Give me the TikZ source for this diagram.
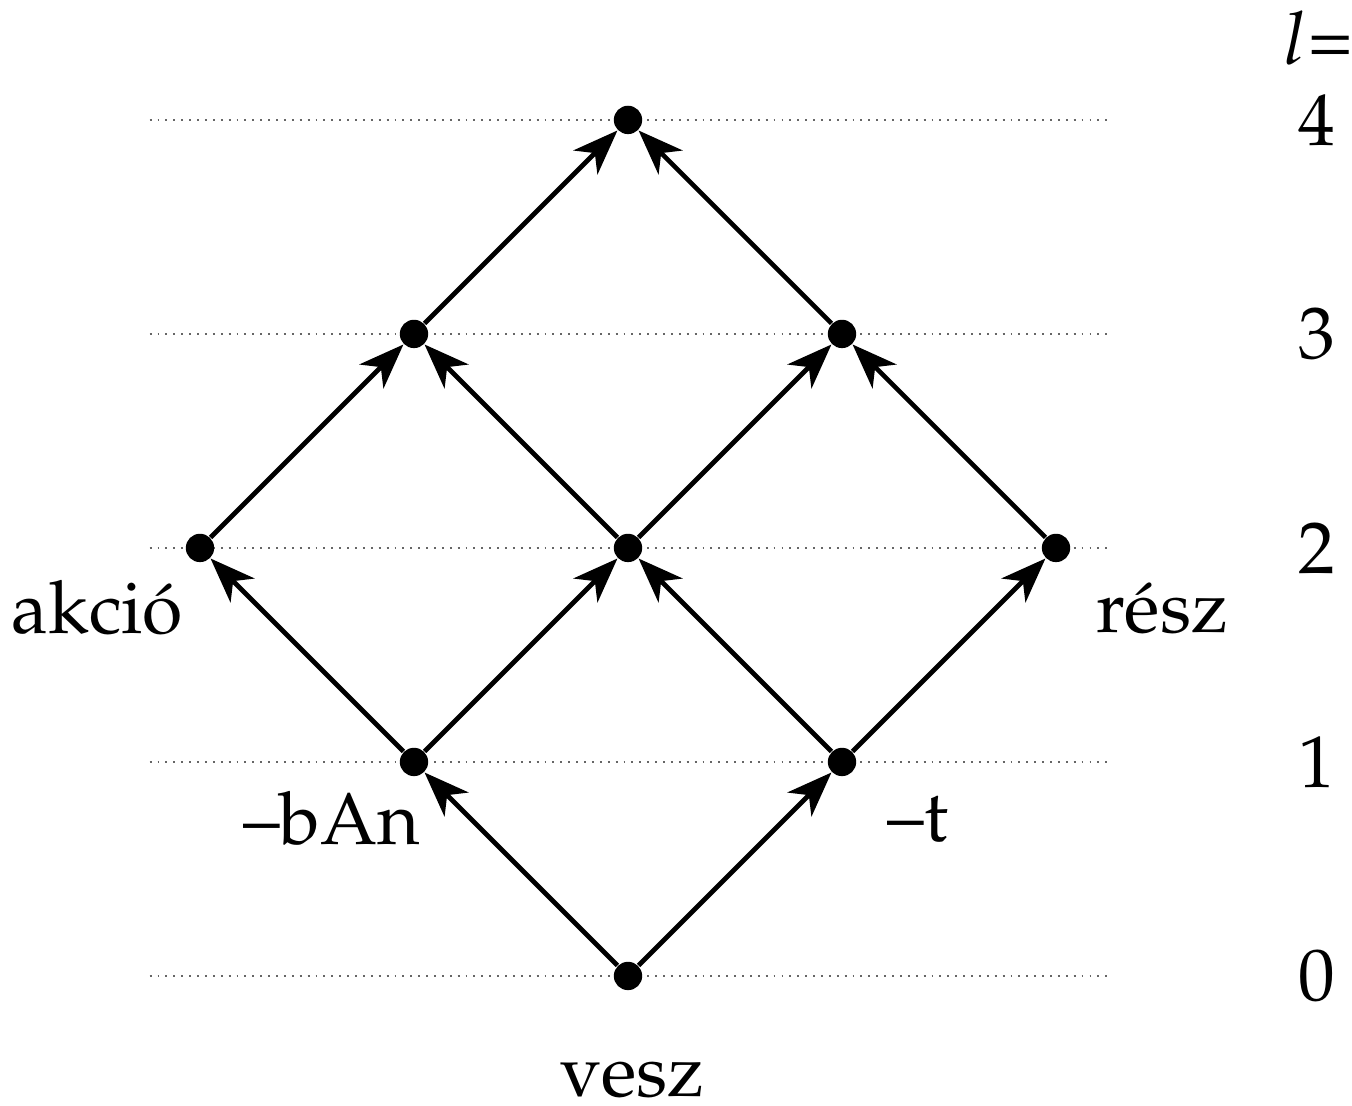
\documentclass[tikz,border=0pt]{standalone}
\usepackage[T1]{fontenc}
\usepackage{mathpazo}
\usetikzlibrary{arrows.meta}

\begin{document}
\begin{tikzpicture}[>={Stealth[length=12pt,width=9pt,inset=3.5pt]}, line join=round, font=\fontsize{19.5}{23}\selectfont,
		dot/.style={circle, fill=black, inner sep=0pt, minimum size=0.265cm},
		arr/.style={->, line width=1.25pt},
		level/.style={gray!80!black, line width=0.5pt, dash pattern=on 0.5pt off 1.6pt},
		lbl/.style={inner sep=0pt}]
		\useasboundingbox (-5.869,-1.206) rectangle (6.766,9.121);
		% Level lines and level numbers
		\foreach \l in {0,...,4} {
			\draw[level] (-4.47,2*\l) -- (4.49,2*\l);
			\node[lbl] (n\l) at (6.44,2*\l) {\l};
		}
		\node[lbl, anchor=base west] (lev) at (6.12,8.52) {$l$=};
		% Lattice points
		\node[dot] (v0) at (0,0) {};
		\node[dot] (v1a) at (-2,2) {};
		\node[dot] (v1b) at (2,2) {};
		\node[dot] (v2a) at (-4,4) {};
		\node[dot] (v2b) at (0,4) {};
		\node[dot] (v2c) at (4,4) {};
		\node[dot] (v3a) at (-2,6) {};
		\node[dot] (v3b) at (2,6) {};
		\node[dot] (v4) at (0,8) {};
		% Arrows
		\draw[arr] (v0) -- (v1a);
		\draw[arr] (v0) -- (v1b);
		\draw[arr] (v1a) -- (v2a);
		\draw[arr] (v1a) -- (v2b);
		\draw[arr] (v1b) -- (v2b);
		\draw[arr] (v1b) -- (v2c);
		\draw[arr] (v2a) -- (v3a);
		\draw[arr] (v2b) -- (v3a);
		\draw[arr] (v2b) -- (v3b);
		\draw[arr] (v2c) -- (v3b);
		\draw[arr] (v3a) -- (v4);
		\draw[arr] (v3b) -- (v4);
		% Morpheme labels
		\node[lbl] (vesz) at (0.04,-0.97) {vesz};
		\node[lbl] (ban) at (-2.77,1.48) {--bAn};
		\node[lbl] (t) at (2.71,1.46) {--t};
		\node[lbl] (akcio) at (-4.96,3.44) {akci\'o};
		\node[lbl] (resz) at (4.99,3.44) {r\'esz};
\end{tikzpicture}
\end{document}
